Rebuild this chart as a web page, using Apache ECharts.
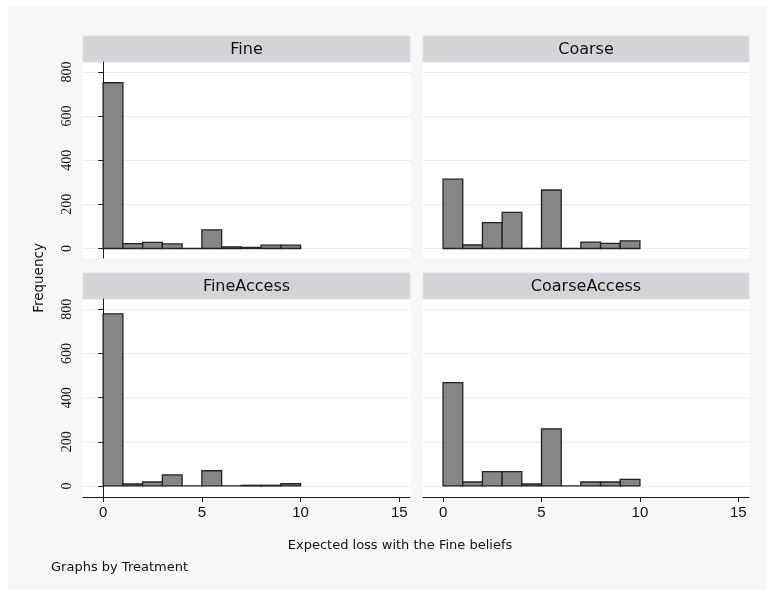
<!DOCTYPE html>
<html>
<head>
<meta charset="utf-8">
<script src="https://cdn.jsdelivr.net/npm/echarts@6/dist/echarts.min.js"></script>
<style>html,body{margin:0;padding:0;background:#fff}#c{width:767px;height:596px}</style>
</head>
<body>
<div id="c"></div>
<script>
// ---- data ----
const panelNames = ['Fine', 'Coarse', 'FineAccess', 'CoarseAccess'];
const binStarts = [0, 1, 2, 3, 4, 5, 6, 7, 8, 9];
const binWidth = 1;
const fineValues = [751, 22, 28, 21, 0, 84, 7, 5, 15, 15];
const coarseValues = [314, 16, 117, 164, 0, 265, 0, 29, 23, 35];
const fineAccessValues = [780, 9, 18, 50, 0, 69, 0, 3, 3, 10];
const coarseAccessValues = [468, 18, 65, 65, 9, 259, 0, 18, 18, 30];
const yTicks = [0, 200, 400, 600, 800];
const xTicks = [0, 5, 10, 15];
const xTitle = 'Expected loss with the Fine beliefs';
const yTitle = 'Frequency';
const note = 'Graphs by Treatment';

const allValues = [fineValues, coarseValues, fineAccessValues, coarseAccessValues];

// ---- layout ----
const cols = [{left: 83, width: 327}, {left: 423, width: 326}];
const rows = [{top: 62, height: 196, hTop: 36, yMin: -43, yMax: 845},
              {top: 299, height: 198, hTop: 273, yMin: -50, yMax: 847}];

const grids = [], xAxes = [], yAxes = [], series = [], graphics = [];
graphics.push({type: 'rect', z: -10, shape: {x: 0, y: 0, width: 767, height: 6}, style: {fill: '#ffffff'}});
graphics.push({type: 'rect', z: -10, shape: {x: 0, y: 0, width: 8, height: 596}, style: {fill: '#ffffff'}});
graphics.push({type: 'rect', z: -10, shape: {x: 0, y: 589, width: 767, height: 7}, style: {fill: '#ffffff'}});

for (let i = 0; i < 4; i++) {
  const r = rows[Math.floor(i / 2)], c = cols[i % 2];
  const isLeft = i % 2 === 0, isBottom = i >= 2;
  grids.push({left: c.left, top: r.top, width: c.width, height: r.height,
    show: true, backgroundColor: '#ffffff', borderWidth: 0});
  xAxes.push({type: 'value', gridIndex: i, min: -1.02, max: 15.54,
    axisLine: {show: isBottom, onZero: false, lineStyle: {color: '#1a1a1a', width: 1}},
    axisTick: {show: isBottom, length: 5, customValues: xTicks, lineStyle: {color: '#1a1a1a'}},
    axisLabel: {show: isBottom, customValues: xTicks, margin: 8, color: '#111',
      fontFamily: 'Liberation Sans', fontSize: 15},
    splitLine: {show: false}});
  yAxes.push({type: 'value', gridIndex: i, min: r.yMin, max: r.yMax,
    axisLine: {show: isLeft, lineStyle: {color: '#1a1a1a', width: 1}},
    axisTick: {show: isLeft, length: 5, customValues: yTicks, lineStyle: {color: '#1a1a1a'}},
    axisLabel: {show: isLeft, customValues: yTicks, rotate: 90, margin: 9, color: '#111',
      fontFamily: 'Liberation Sans Narrow', fontSize: 14},
    splitLine: {show: true, lineStyle: {color: '#ebebeb', width: 1}}});
  series.push({type: 'custom', xAxisIndex: i, yAxisIndex: i,
    data: binStarts.map((b, k) => [b, allValues[i][k]]),
    renderItem: function (params, api) {
      const x0 = api.value(0), v = api.value(1);
      const p0 = api.coord([x0, v]);
      const p1 = api.coord([x0 + binWidth, 0]);
      return {type: 'rect',
        shape: {x: p0[0], y: p0[1], width: p1[0] - p0[0], height: p1[1] - p0[1]},
        style: {fill: '#868686', stroke: '#222222', lineWidth: 1.3}};
    }});
  // panel header
  graphics.push({type: 'rect', shape: {x: c.left, y: r.hTop, width: c.width, height: r.top - r.hTop},
    style: {fill: '#d4d4d4', stroke: '#dcdaf0', lineWidth: 1}});
  graphics.push({type: 'text', x: c.left + c.width / 2, y: r.hTop + (r.top - r.hTop) / 2 + 1,
    style: {text: panelNames[i], textAlign: 'center', textVerticalAlign: 'middle',
      font: '16px "DejaVu Sans"', fill: '#111'}});
}

graphics.push({type: 'text', x: 39, y: 278, rotation: Math.PI / 2,
  style: {text: yTitle, textAlign: 'center', textVerticalAlign: 'middle', font: '13.5px "DejaVu Sans"', fill: '#111'}});
graphics.push({type: 'text', x: 400, y: 546,
  style: {text: xTitle, textAlign: 'center', textVerticalAlign: 'middle', font: '13px "DejaVu Sans"', fill: '#111'}});
graphics.push({type: 'text', x: 51, y: 568,
  style: {text: note, textAlign: 'left', textVerticalAlign: 'middle', font: '13px "DejaVu Sans"', fill: '#111'}});

const chart = echarts.init(document.getElementById('c'), null, {renderer: 'canvas'});
chart.setOption({
  backgroundColor: '#f7f7f7',
  animation: false,
  grid: grids, xAxis: xAxes, yAxis: yAxes, series: series,
  graphic: graphics
});
</script>
</body>
</html>
